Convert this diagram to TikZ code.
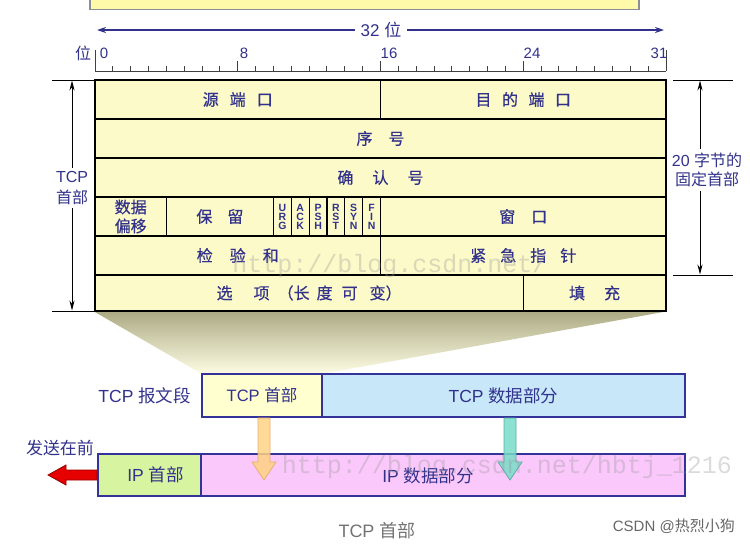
\documentclass[tikz,border=0pt]{standalone}
\usepackage{fontspec}
\setmainfont{Liberation Sans}
\newfontfamily\cjk{Noto Sans CJK SC}
\newfontfamily\cjkb{Noto Sans CJK SC}[FakeBold=0.6]
\newfontfamily\wmfont{Liberation Mono}
\usetikzlibrary{calc,arrows.meta}
\newcommand{\zhtxt}[1]{{\cjk #1}}
\definecolor{navy}{RGB}{50,50,140}
\definecolor{tabfill}{RGB}{252,250,200}
\definecolor{hdrfill}{RGB}{255,255,208}
\definecolor{bluebox}{RGB}{200,232,250}
\definecolor{greenbox}{RGB}{215,245,160}
\definecolor{pinkbox}{RGB}{250,200,250}
\definecolor{boxline}{RGB}{51,51,153}
\definecolor{topbar}{RGB}{255,250,170}
\definecolor{topbarline}{RGB}{140,140,155}
\definecolor{shadetop}{RGB}{172,170,132}
\definecolor{shadebot}{RGB}{254,253,228}
\definecolor{orfill}{RGB}{255,210,130}
\definecolor{ordraw}{RGB}{225,178,110}
\definecolor{tlfill}{RGB}{120,220,200}
\definecolor{tldraw}{RGB}{90,175,170}
\definecolor{redfill}{RGB}{230,0,0}
\definecolor{reddraw}{RGB}{150,0,0}
\tikzset{
  cell/.style={draw=black, line width=1.1pt, fill=tabfill, inner sep=0pt, outer sep=0pt,
    anchor=north west, text=navy, align=center, font=\cjkb\fontsize{16}{19}\selectfont},
  flagcell/.style={cell, minimum width=17.84pt, minimum height=39pt,
    font=\bfseries\fontsize{10.5}{9}\selectfont},
  segbox/.style={draw=boxline, line width=1.5pt, inner sep=0pt, outer sep=0pt,
    anchor=north west, text=navy, font=\fontsize{17}{20}\selectfont},
  lab/.style={text=navy, inner sep=1pt, align=center},
  rulelab/.style={text=navy, inner sep=0pt, font=\fontsize{15}{18}\selectfont},
  ruleline/.style={draw=black!75, line width=1pt},
  dimline/.style={draw=black, line width=0.8pt},
  dimarrow/.style={draw=black, line width=0.9pt, {Stealth[length=10pt,width=5pt]}-{Stealth[length=10pt,width=5pt]}},
  wm/.style={text=black!40, text opacity=0.35, inner sep=0pt, font=\wmfont\fontsize{25}{28}\selectfont},
  blockarrow/.style={line width=0.8pt, fill opacity=0.85}
}
\begin{document}
\begin{tikzpicture}[x=1pt,y=-1pt]
\useasboundingbox (0,0) rectangle (750,547);
% top bar (partially visible)
\draw[draw=topbarline, line width=1.2pt, fill=topbar] (90,-5) rectangle (639,9.5);

% 32 bit arrow
\coordinate (l32) at (97,30);
\coordinate (r32) at (664,30);
\draw[navy, line width=1.3pt, {Stealth[length=9pt,width=6pt]}-{Stealth[length=9pt,width=6pt]}] (l32) -- (r32);
\node[rulelab, fill=white, inner xsep=6pt, font=\fontsize{17}{20}\selectfont] (w32) at (381,30) {32 \zhtxt{位}};

% ruler
\coordinate (r0) at (95,71);
\coordinate (r32e) at (666,71);
\draw[ruleline] (r0) -- (r32e);
\foreach \i in {1,...,31} {\draw[ruleline] ({95+17.844*\i},71) -- ++(0,-5);}
\foreach \i in {8,16,24} {\draw[ruleline] ({95+17.844*\i},71) -- ++(0,-10);}
\draw[ruleline] (r0) -- ++(0,-21);
\draw[ruleline] (r32e) -- ++(0,-21);
\node[rulelab, font=\cjk\fontsize{16}{18}\selectfont] (wei) at (83,53) {位};
\node[rulelab] (b0) at (104,53) {0};
\node[rulelab] (b8) at (244,53) {8};
\node[rulelab] (b16) at (389,53) {16};
\node[rulelab] (b24) at (532,53) {24};
\node[rulelab] (b31) at (659,53) {31};

% projection shading
\shade[top color=shadetop, bottom color=shadebot] (94,311.5) -- (666,311.5) -- (322,374) -- (202,374) -- cycle;

% header table
\node[cell, minimum width=285.5pt, minimum height=39pt] (src) at (95,80) {源\hspace{11pt}端\hspace{11pt}口};
\node[cell, minimum width=285.5pt, minimum height=39pt] (dst) at (380.5,80) {目\hspace{10.5pt}的\hspace{10.5pt}端\hspace{10.5pt}口};
\node[cell, minimum width=571pt, minimum height=39pt] (seq) at (95,119) {序\hspace{16pt}号};
\node[cell, minimum width=571pt, minimum height=39pt] (ack) at (95,158) {确\hspace{19pt}认\hspace{19pt}号};
\node[cell, minimum width=71.38pt, minimum height=39pt] (off) at (95,197) {数据\\偏移};
\node[cell, minimum width=107.06pt, minimum height=39pt] (res) at (166.38,197) {保\hspace{15pt}留};
\node[flagcell] (urg) at (273.44,197) {U\\R\\G};
\node[flagcell] (ackf) at (291.28,197) {A\\C\\K};
\node[flagcell] (psh) at (309.13,197) {P\\S\\H};
\node[flagcell] (rst) at (326.97,197) {R\\S\\T};
\node[flagcell] (syn) at (344.82,197) {S\\Y\\N};
\node[flagcell] (fin) at (362.66,197) {F\\I\\N};
\node[cell, minimum width=285.5pt, minimum height=39pt] (win) at (380.5,197) {窗\hspace{16pt}口};
\node[cell, minimum width=285.5pt, minimum height=39pt] (chk) at (95,236) {检\hspace{17pt}验\hspace{17pt}和};
\node[cell, minimum width=285.5pt, minimum height=39pt] (urp) at (380.5,236) {紧\hspace{14pt}急\hspace{14pt}指\hspace{14pt}针};
\node[cell, minimum width=428.26pt, minimum height=36pt] (opt) at (95,275) {选\hspace{21pt}项\hspace{8pt}（长\hspace{7pt}度\hspace{9pt}可\hspace{12pt}变）};
\node[cell, minimum width=142.74pt, minimum height=36pt] (pad) at (523.26,275) {填\hspace{19pt}充};
\draw[line width=1.6pt] (src.north west) rectangle (pad.south east);

% left dimension
\coordinate (lt1) at (52,80);
\coordinate (lb1) at (52,311);
\draw[dimline] (lt1) -- (src.north west);
\draw[dimline] (lb1) -- (opt.south west);
\coordinate (la) at (72,80.5);
\coordinate (lb) at (72,310.5);
\draw[dimarrow] (la) -- (lb);
\node[lab, fill=white, font=\fontsize{16}{21}\selectfont, inner ysep=3pt] (tcphdr) at (72,188) {TCP\\\zhtxt{首部}};

% right dimension
\coordinate (rt1) at (673,80);
\coordinate (rt2) at (733,80);
\coordinate (rb1) at (673,275);
\coordinate (rb2) at (733,275);
\draw[dimline] (rt1) -- (rt2);
\draw[dimline] (rb1) -- (rb2);
\coordinate (ra) at (700,80.5);
\coordinate (rb) at (700,274.5);
\draw[dimarrow] (ra) -- (rb);
\node[lab, fill=white, font=\fontsize{16}{19}\selectfont, inner ysep=4pt] (fixed) at (707,170) {20 \zhtxt{字节的}\\\zhtxt{固定首部}};

% table watermark
\node[wm] (wm1) at (390,266) {http://blog.csdn.net/};

% TCP segment
\node[segbox, fill=hdrfill, minimum width=120pt, minimum height=43pt] (segh) at (202,374) {};
\node[segbox, fill=bluebox, minimum width=363pt, minimum height=43pt] (segd) at (322,374) {};
\node[lab, anchor=east, font=\fontsize{17.5}{20}\selectfont] (seglab) at (192,396) {TCP \zhtxt{报文段}};

% IP datagram
\node[segbox, fill=greenbox, minimum width=103pt, minimum height=42pt] (iph) at (98,454) {};
\node[segbox, fill=pinkbox, minimum width=484pt, minimum height=42pt] (ipd) at (201,454) {};

% block arrows
\coordinate (oa) at (264,418);
\coordinate (ta) at (510,418);
\draw[blockarrow, draw=ordraw, fill=orfill] (oa) ++(-6,0) -- ++(0,44) -- ++(-6,0) -- ++(12,18) -- ++(12,-18) -- ++(-6,0) -- ++(0,-44) -- cycle;
\draw[blockarrow, draw=tldraw, fill=tlfill] (ta) ++(-6,0) -- ++(0,44) -- ++(-6,0) -- ++(12,18) -- ++(12,-18) -- ++(-6,0) -- ++(0,-44) -- cycle;
\coordinate (redtail) at (97,475);
\draw[line width=0.8pt, draw=reddraw, fill=redfill] (redtail) ++(0,-5) -- ++(-31,0) -- ++(0,-5) -- ++(-18,10) -- ++(18,10) -- ++(0,-5) -- ++(31,0) -- cycle;

% texts of bottom boxes
\node[lab, font=\fontsize{16.5}{20}\selectfont] (seghtxt) at (segh.center) {TCP \zhtxt{首部}};
\node[lab, font=\fontsize{17.5}{20}\selectfont] (segdtxt) at (segd.center) {TCP \zhtxt{数据部分}};
\node[lab, font=\fontsize{17.5}{20}\selectfont] (iphtxt) at ($(iph.center)+(6,0)$) {IP \zhtxt{首部}};
\node[lab, font=\fontsize{17.5}{20}\selectfont] (ipdtxt) at ($(ipd.center)+(-15,1)$) {IP \zhtxt{数据部分}};
\node[lab, font=\cjk\fontsize{17}{20}\selectfont] (send) at (60,448) {发送在前};

% bottom watermark
\node[wm] (wm2) at (507,467) {http://blog.csdn.net/hbtj\_1216};

% caption and credit
\node[text=black!55, inner sep=0pt, font=\fontsize{18}{20}\selectfont] (cap) at (377,531) {TCP \zhtxt{首部}};
\node[text=black!60, inner sep=0pt, anchor=east, font=\fontsize{15}{18}\selectfont] (csdn) at (735,526) {CSDN @\zhtxt{热烈小狗}};
\end{tikzpicture}
\end{document}
